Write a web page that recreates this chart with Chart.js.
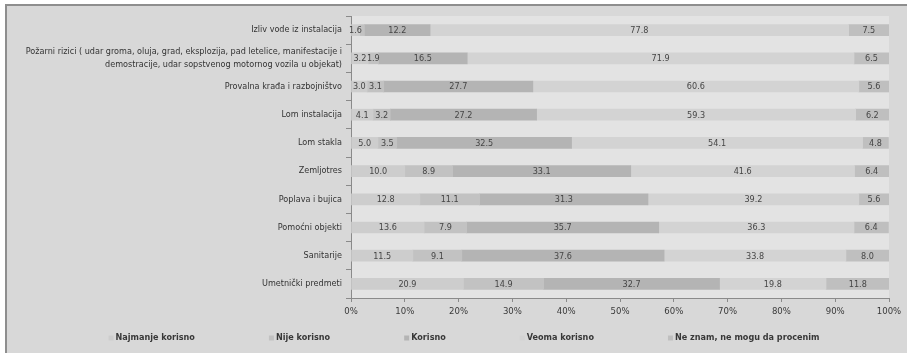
<!DOCTYPE html>
<html>
<head>
<meta charset="utf-8">
<script src="https://cdn.jsdelivr.net/npm/chart.js@4.4.0/dist/chart.umd.min.js"></script>
<style>
  html, body { margin: 0; padding: 0; background: #ffffff; overflow: hidden; }
  #frame { position: absolute; left: 5px; top: 4px; width: 902px; height: 349px; background: #d8d8d8;
           border-top: 2px solid #8e8e8e; border-left: 2px solid #8e8e8e; box-sizing: border-box; }
  #wrap { position: absolute; left: 0; top: 0; width: 907px; height: 353px; }
</style>
</head>
<body>
<div id="frame"></div>
<div id="wrap"><canvas id="c" width="907" height="353"></canvas></div>
<script>
const categories = [
  "Izliv vode iz instalacija",
  ["Požarni rizici ( udar groma, oluja, grad, eksplozija, pad letelice, manifestacije i", "demostracije, udar sopstvenog motornog vozila u objekat)"],
  "Provalna krađa i razbojništvo",
  "Lom instalacija",
  "Lom stakla",
  "Zemljotres",
  "Poplava i bujica",
  "Pomoćni objekti",
  "Sanitarije",
  "Umetnički predmeti"
];
const najmanjeKorisno = [1.6, 3.2, 3.0, 4.1, 5.0, 10.0, 12.8, 13.6, 11.5, 20.9];
const nijeKorisno     = [0.9, 1.9, 3.1, 3.2, 3.5, 8.9, 11.1, 7.9, 9.1, 14.9];
const korisno         = [12.2, 16.5, 27.7, 27.2, 32.5, 33.1, 31.3, 35.7, 37.6, 32.7];
const veomaKorisno    = [77.8, 71.9, 60.6, 59.3, 54.1, 41.6, 39.2, 36.3, 33.8, 19.8];
const neZnam          = [7.5, 6.5, 5.6, 6.2, 4.8, 6.4, 5.6, 6.4, 8.0, 11.8];
const seriesNames = ["Najmanje korisno", "Nije korisno", "Korisno", "Veoma korisno", "Ne znam, ne mogu da procenim"];
const xTicks = [0, 10, 20, 30, 40, 50, 60, 70, 80, 90, 100];

const colors = ["#cdcdcd", "#c2c2c2", "#b4b4b4", "#d3d3d3", "#bfbfbf"];
const seriesData = [najmanjeKorisno, nijeKorisno, korisno, veomaKorisno, neZnam];

const FONT = "'Liberation Sans Narrow', 'DejaVu Sans Condensed', 'Liberation Sans', sans-serif";

const plotBg = {
  id: 'plotBg',
  beforeDraw(chart) {
    const {ctx, chartArea: a} = chart;
    ctx.save();
    ctx.fillStyle = '#e3e3e3';
    ctx.fillRect(a.left, a.top, a.right - a.left, a.bottom - a.top);
    ctx.restore();
  }
};

const valueLabels = {
  id: 'valueLabels',
  afterDatasetsDraw(chart) {
    const ctx = chart.ctx;
    ctx.save();
    ctx.font = "9px " + FONT;
    ctx.fillStyle = '#454545';
    ctx.textAlign = 'center';
    ctx.textBaseline = 'middle';
    chart.data.datasets.forEach((ds, di) => {
      const meta = chart.getDatasetMeta(di);
      meta.data.forEach((el, i) => {
        const v = ds.data[i];
        if (v < 1) return;
        const cx = (el.x + el.base) / 2;
        ctx.fillText(v.toFixed(1), cx, el.y + 0.5);
      });
    });
    ctx.restore();
  }
};

const customLegend = {
  id: 'customLegend',
  afterDraw(chart) {
    const ctx = chart.ctx;
    ctx.save();
    ctx.font = "bold 9px " + FONT;
    ctx.textBaseline = 'middle';
    ctx.textAlign = 'left';
    const box = 5, gapBoxText = 2, gap = 74;
    const items = chart.data.datasets.map(d => ({text: d.label, color: d.backgroundColor, w: box + gapBoxText + ctx.measureText(d.label).width}));
    const total = items.reduce((s, it) => s + it.w, 0) + gap * (items.length - 1);
    let x = 464 - total / 2;
    const y = 338;
    items.forEach(it => {
      ctx.fillStyle = it.color;
      ctx.fillRect(x, y - box / 2, box, box);
      ctx.fillStyle = '#383838';
      ctx.fillText(it.text, x + box + gapBoxText, y);
      x += it.w + gap;
    });
    ctx.restore();
  }
};

new Chart(document.getElementById('c'), {
  type: 'bar',
  data: {
    labels: categories,
    datasets: seriesNames.map((n, i) => ({
      label: n,
      data: seriesData[i],
      backgroundColor: colors[i],
      borderWidth: 0,
      barThickness: 11
    }))
  },
  options: {
    indexAxis: 'y',
    responsive: false,
    animation: false,
    devicePixelRatio: 1,
    layout: { padding: { top: 16, right: 18, bottom: 33, left: 0 } },
    plugins: {
      legend: { display: false },
      tooltip: { enabled: false }
    },
    scales: {
      x: {
        stacked: true,
        min: 0, max: 100,
        afterBuildTicks(scale) { scale.ticks = xTicks.map(v => ({value: v})); },
        afterFit(scale) { scale.height = 22; },
        border: { display: true, color: '#8a8a8a', width: 1 },
        grid: { drawOnChartArea: false, drawTicks: true, tickLength: 4, color: '#8a8a8a' },
        ticks: { color: '#3a3a3a', font: { family: FONT, size: 9.5 }, padding: 4, maxRotation: 0,
                 callback: v => v + '%' }
      },
      y: {
        stacked: true,
        afterFit(scale) { scale.width = 351; },
        border: { display: true, color: '#8a8a8a', width: 1 },
        grid: { drawOnChartArea: false, drawTicks: true, tickLength: 5, color: '#8a8a8a', offset: true },
        ticks: { color: '#333333', font: { family: FONT, size: 9, lineHeight: 1.45 }, padding: 4, autoSkip: false }
      }
    }
  },
  plugins: [plotBg, valueLabels, customLegend]
});
</script>
</body>
</html>
